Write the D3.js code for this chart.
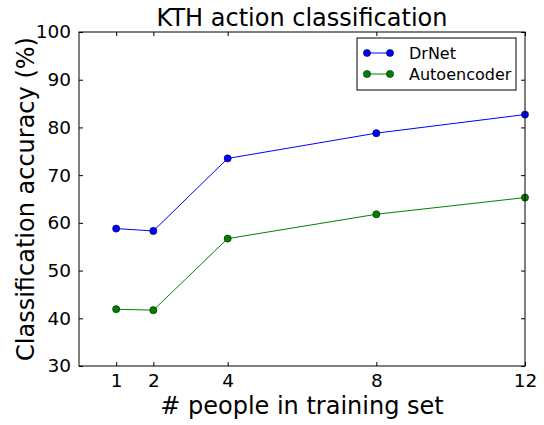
<!DOCTYPE html>
<html><head><meta charset="utf-8">
<script src="https://cdn.jsdelivr.net/npm/d3@7"></script>
<style>body{margin:0;background:#fff}svg{display:block}text{font-family:"DejaVu Sans",sans-serif;fill:#000}</style>
</head><body>
<script>
const xValues = [1, 2, 4, 8, 12];
const drnet = [58.8, 58.3, 73.5, 78.8, 82.7];
const autoencoder = [41.9, 41.7, 56.7, 61.8, 65.3];
const xTicks = [1, 2, 4, 8, 12];
const yTicks = [30, 40, 50, 60, 70, 80, 90, 100];
const seriesNames = ["DrNet", "Autoencoder"];
const seriesColors = ["#0000ff", "#008000"];

const W = 544, H = 425;
const L = 79, R = 525, T = 32, B = 366;
const svg = d3.select("body").append("svg").attr("width", W).attr("height", H);
const x = d3.scaleLinear().domain([0, 12]).range([L, R]);
const y = d3.scaleLinear().domain([30, 100]).range([B, T]);

const fmt = d3.format("d");
svg.append("g").attr("transform", `translate(0,${B})`)
  .call(d3.axisBottom(x).tickValues(xTicks).tickFormat(fmt).tickSizeInner(-4).tickSizeOuter(0).tickPadding(8))
  .call(g => { g.select(".domain").remove(); g.selectAll("text").attr("font-size", 18.5).attr("dy", "0.71em"); });
svg.append("g").attr("transform", `translate(0,${T})`)
  .call(d3.axisTop(x).tickValues(xTicks).tickFormat("").tickSizeInner(-4).tickSizeOuter(0))
  .call(g => g.select(".domain").remove());
svg.append("g").attr("transform", `translate(${L},0)`)
  .call(d3.axisLeft(y).tickValues(yTicks).tickFormat(fmt).tickSizeInner(-4).tickSizeOuter(0).tickPadding(8))
  .call(g => { g.select(".domain").remove(); g.selectAll("text").attr("font-size", 18.5); });
svg.append("g").attr("transform", `translate(${R},0)`)
  .call(d3.axisRight(y).tickValues(yTicks).tickFormat("").tickSizeInner(-4).tickSizeOuter(0))
  .call(g => g.select(".domain").remove());
svg.selectAll(".tick line").attr("stroke", "#000").attr("stroke-width", 1);

const series = [drnet, autoencoder];
const line = d3.line().x((d, i) => x(xValues[i])).y(d => y(d));
series.forEach((vals, si) => {
  svg.append("path").datum(vals).attr("d", line).attr("fill", "none")
    .attr("stroke", seriesColors[si]).attr("stroke-width", 1);
  svg.append("g").selectAll("circle").data(vals).join("circle")
    .attr("cx", (d, i) => x(xValues[i])).attr("cy", d => y(d)).attr("r", 3.6)
    .attr("fill", seriesColors[si]).attr("stroke", "#000").attr("stroke-width", 0.5);
});

svg.append("rect").attr("x", L).attr("y", T).attr("width", R - L).attr("height", B - T)
  .attr("fill", "none").attr("stroke", "#000").attr("stroke-width", 1);

const lg = svg.append("g");
lg.append("rect").attr("x", 357).attr("y", 38).attr("width", 159).attr("height", 52)
  .attr("fill", "#fff").attr("stroke", "#000").attr("stroke-width", 1);
seriesNames.forEach((n, i) => {
  const yy = 53 + i * 21;
  lg.append("line").attr("x1", 367).attr("x2", 390).attr("y1", yy).attr("y2", yy)
    .attr("stroke", seriesColors[i]).attr("stroke-width", 1);
  [367, 390].forEach(cx => lg.append("circle").attr("cx", cx).attr("cy", yy).attr("r", 3.6)
    .attr("fill", seriesColors[i]).attr("stroke", "#000").attr("stroke-width", 0.5));
  lg.append("text").attr("x", 409).attr("y", yy).attr("dy", "0.35em").attr("font-size", 16).text(n);
});

svg.append("text").attr("x", (L + R) / 2).attr("y", 26).attr("text-anchor", "middle")
  .attr("font-size", 24).text("KTH action classification");
svg.append("text").attr("x", (L + R) / 2).attr("y", 414).attr("text-anchor", "middle")
  .attr("font-size", 24).text("# people in training set");
svg.append("text").attr("transform", `translate(34,${(T + B) / 2}) rotate(-90)`)
  .attr("text-anchor", "middle").attr("font-size", 24).text("Classification accuracy (%)");
</script>
</body></html>
